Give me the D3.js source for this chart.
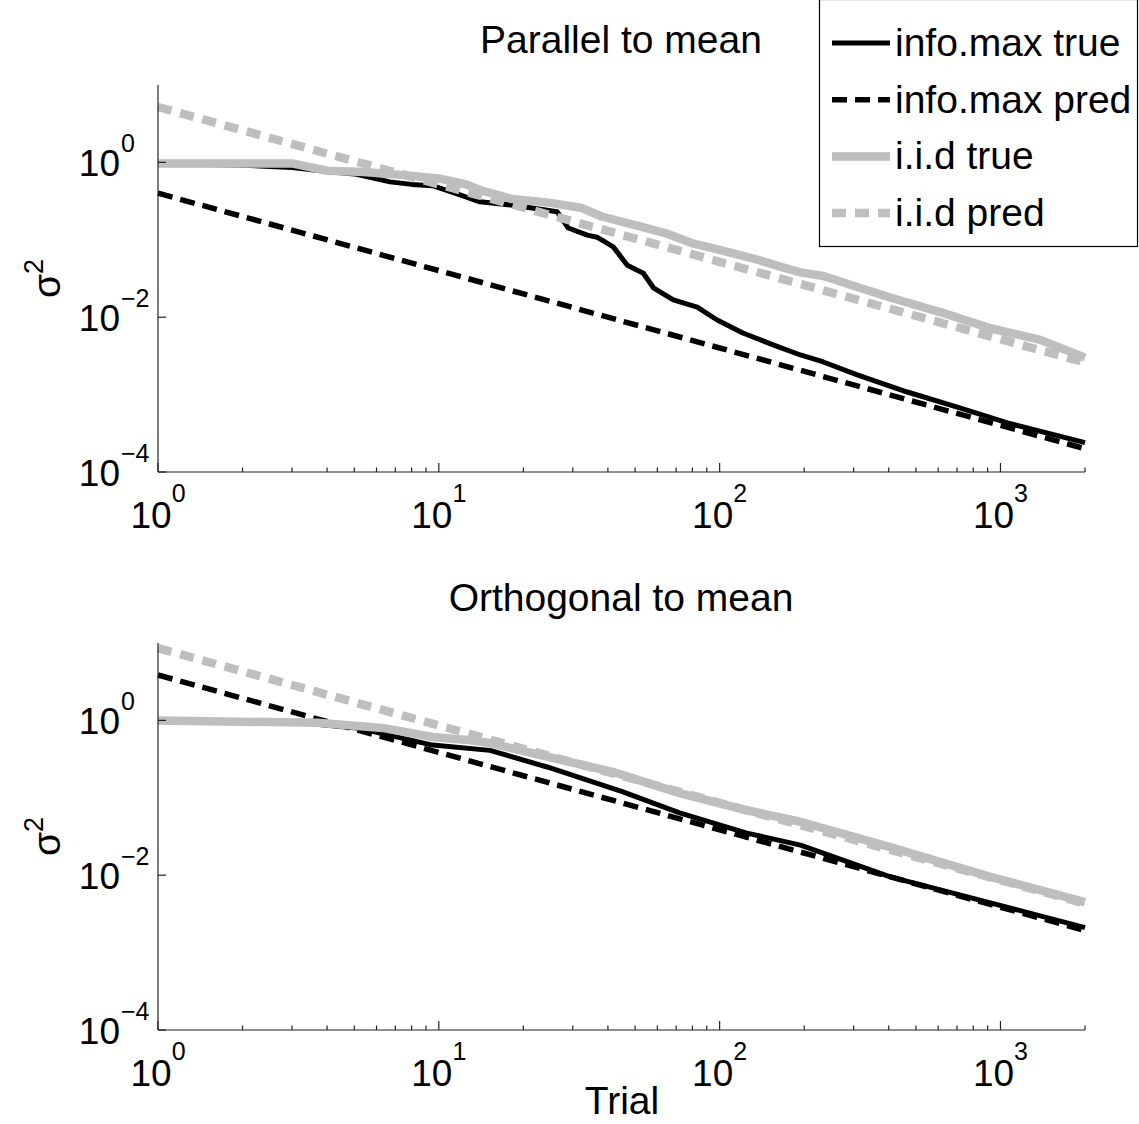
<!DOCTYPE html>
<html>
<head>
<meta charset="utf-8">
<script src="https://cdn.jsdelivr.net/npm/d3@7"></script>
<style>
  body { margin: 0; background: #fff; }
  text { font-family: "Liberation Sans", Arial, sans-serif; fill: #000; }
</style>
</head>
<body>
<svg width="1139" height="1124"></svg>
<script>
// ---- data (trial, variance) ----
// top panel: parallel to mean
var parTrueTrials = [1, 2, 3, 4, 5, 6.7, 8, 9.5, 11.9, 14, 18.4, 26.4, 28.9, 33.8, 36.6, 41.8, 46.9, 53.5, 58.1, 68.4, 83.2, 98, 121, 155, 194, 234, 309, 466, 702, 1059, 2000];
var parTrueVals   = [0.97, 0.92, 0.86, 0.76, 0.71, 0.56, 0.52, 0.5, 0.38, 0.31, 0.28, 0.23, 0.142, 0.115, 0.108, 0.081, 0.047, 0.037, 0.024, 0.0167, 0.0135, 0.0092, 0.00625, 0.0044, 0.00325, 0.00264, 0.0018, 0.00108, 0.00069, 0.00043, 0.00024];
var parPredTrials = [1, 10, 100, 1000, 2000];
var parPredVals   = [0.40, 0.040, 0.0040, 0.00040, 0.00020];
var parIidTrials  = [1, 3, 4, 5.4, 7.3, 10, 12.5, 14, 18, 25, 32, 38, 50, 65, 80, 100, 135, 164, 194, 234, 309, 405, 627, 921, 1387, 2000];
var parIidVals    = [0.97, 0.97, 0.78, 0.75, 0.69, 0.62, 0.52, 0.44, 0.34, 0.30, 0.26, 0.20, 0.155, 0.12, 0.09, 0.074, 0.056, 0.045, 0.038, 0.034, 0.0245, 0.018, 0.0113, 0.0072, 0.0051, 0.0030];
var parIidPredTrials = [1, 10, 100, 1000, 2000];
var parIidPredVals   = [5.2, 0.52, 0.052, 0.0052, 0.0026];

// bottom panel: orthogonal to mean
var ortTrueTrials = [1, 3, 5.1, 9.5, 15.2, 24.3, 45, 72, 125, 194, 405, 921, 2000];
var ortTrueVals   = [1.0, 0.95, 0.80, 0.48, 0.41, 0.25, 0.12, 0.064, 0.035, 0.0245, 0.0095, 0.0044, 0.0021];
var ortPredTrials = [1, 10, 100, 1000, 2000];
var ortPredVals   = [3.86, 0.386, 0.0386, 0.00386, 0.00193];
var ortIidTrials  = [1, 3.7, 6.3, 9.5, 12.6, 15.2, 24.3, 41.8, 72, 125, 194, 405, 921, 2000];
var ortIidVals    = [1.0, 0.93, 0.80, 0.61, 0.56, 0.51, 0.34, 0.215, 0.115, 0.069, 0.049, 0.023, 0.0095, 0.0045];
var ortIidPredTrials = [1, 10, 100, 1000, 2000];
var ortIidPredVals   = [8.6, 0.86, 0.086, 0.0086, 0.0043];

var yTicks = [1e-4, 1e-2, 1];
var xTicks = [1, 10, 100, 1000];
var legendNames = ["info.max true", "info.max pred", "i.i.d true", "i.i.d pred"];

var grey = "#bebebe";
var styles = [
  {color: "#000", width: 5, dash: null},
  {color: "#000", width: 5.5, dash: "15 8"},
  {color: grey, width: 8.5, dash: null},
  {color: grey, width: 8.5, dash: "14 9"}
];

var svg = d3.select("svg");
svg.append("rect").attr("width", 1139).attr("height", 1124).attr("fill", "#fff");

function zip(a, b) { return a.map(function(v, i) { return [v, b[i]]; }); }

function expText(sel, x, y, anchor, base, exp, fs, efs, edy) {
  var t = sel.append("text").attr("x", x).attr("y", y)
    .attr("text-anchor", anchor).style("font-size", fs + "px");
  t.append("tspan").text(base);
  t.append("tspan").attr("dy", edy).style("font-size", efs + "px").text(exp);
  return t;
}

function drawPanel(top, bottom, title, series) {
  var x = d3.scaleLog().domain([1, 2000]).range([158, 1085]);
  var y = d3.scaleLog().domain([1e-4, 10]).range([bottom, top]);
  var g = svg.append("g");

  var line = d3.line()
    .x(function(d) { return x(d[0]); })
    .y(function(d) { return y(d[1]); });

  series.forEach(function(s, i) {
    g.append("path")
      .attr("d", line(s))
      .attr("fill", "none")
      .attr("stroke", styles[i].color)
      .attr("stroke-width", styles[i].width)
      .attr("stroke-dasharray", styles[i].dash)
      .attr("stroke-linejoin", "round");
  });

  // axes lines (box off)
  g.append("line").attr("x1", 158).attr("x2", 158).attr("y1", top).attr("y2", bottom)
    .attr("stroke", "#222").attr("stroke-width", 1.2);
  g.append("line").attr("x1", 158).attr("x2", 1085).attr("y1", bottom).attr("y2", bottom)
    .attr("stroke", "#222").attr("stroke-width", 1.2);

  // x ticks, major and minor, pointing inward
  var minor = [];
  [1, 10, 100, 1000].forEach(function(dec) {
    for (var k = 2; k <= 9; k++) if (dec * k <= 2000) minor.push(dec * k);
  });
  minor.forEach(function(v) {
    g.append("line").attr("x1", x(v)).attr("x2", x(v)).attr("y1", bottom).attr("y2", bottom - 4.5)
      .attr("stroke", "#222").attr("stroke-width", 1.2);
  });
  xTicks.forEach(function(v) {
    g.append("line").attr("x1", x(v)).attr("x2", x(v)).attr("y1", bottom).attr("y2", bottom - 9)
      .attr("stroke", "#222").attr("stroke-width", 1.2);
    expText(g, x(v), bottom + 56, "middle", "10", String(Math.round(Math.log10(v))), 37, 25, -26);
  });

  // y ticks
  yTicks.forEach(function(v) {
    g.append("line").attr("x1", 158).attr("x2", 166).attr("y1", y(v)).attr("y2", y(v))
      .attr("stroke", "#222").attr("stroke-width", 1.2);
    var e = Math.round(Math.log10(v));
    g.append("text").attr("x", 120).attr("y", y(v) + 14).attr("text-anchor", "end")
      .style("font-size", "37px").text("10");
    g.append("text").attr("x", 121).attr("y", y(v) - 10)
      .style("font-size", "25px").text(e < 0 ? "\u2212" + (-e) : String(e));
  });

  // y label sigma^2
  var cy = (top + bottom) / 2;
  var yl = g.append("text").attr("transform", "translate(60," + cy + ") rotate(-90)")
    .attr("text-anchor", "middle").style("font-size", "39px");
  yl.append("tspan").text("\u03c3");
  yl.append("tspan").attr("dy", -17).style("font-size", "27px").text("2");

  // title
  g.append("text").attr("x", 621).attr("y", top - 32).attr("text-anchor", "middle")
    .style("font-size", "39px").text(title);
}

drawPanel(85, 472, "Parallel to mean", [
  zip(parTrueTrials, parTrueVals),
  zip(parPredTrials, parPredVals),
  zip(parIidTrials, parIidVals),
  zip(parIidPredTrials, parIidPredVals)
]);

drawPanel(643, 1030, "Orthogonal to mean", [
  zip(ortTrueTrials, ortTrueVals),
  zip(ortPredTrials, ortPredVals),
  zip(ortIidTrials, ortIidVals),
  zip(ortIidPredTrials, ortIidPredVals)
]);

// x label
svg.append("text").attr("x", 622).attr("y", 1114).attr("text-anchor", "middle")
  .style("font-size", "39px").text("Trial");

// legend
var lg = svg.append("g");
lg.append("rect").attr("x", 819.5).attr("y", -0.5).attr("width", 318).attr("height", 247)
  .attr("fill", "#fff").attr("stroke", "#000").attr("stroke-width", 1.2);
legendNames.forEach(function(name, i) {
  var ly = 43 + i * 56.7;
  lg.append("line").attr("x1", 832).attr("x2", 890).attr("y1", ly).attr("y2", ly)
    .attr("stroke", styles[i].color).attr("stroke-width", styles[i].width)
    .attr("stroke-dasharray", styles[i].dash);
  lg.append("text").attr("x", 895).attr("y", ly + 13).style("font-size", "39px").text(name);
});
</script>
</body>
</html>
